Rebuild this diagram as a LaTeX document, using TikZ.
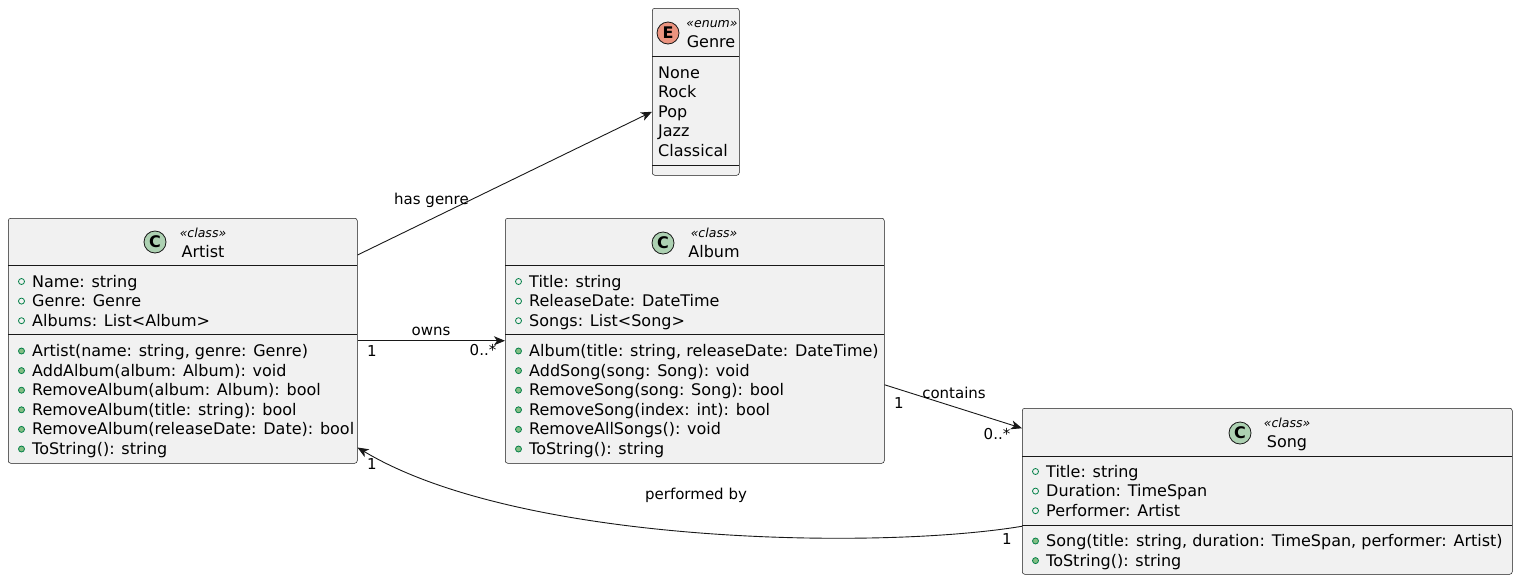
\documentclass[tikz,border=0pt]{standalone}
\usepackage{fontspec}
\setmainfont{DejaVu Sans}
\usetikzlibrary{arrows.meta,calc}
\definecolor{boxfill}{HTML}{F1F1F1}
\definecolor{boxline}{HTML}{181818}
\definecolor{classcirc}{HTML}{ADD1B2}
\definecolor{enumcirc}{HTML}{EB937F}
\definecolor{visline}{HTML}{038048}
\definecolor{visfill}{HTML}{84BE84}
\tikzset{
  umlbox/.style={draw=boxline, fill=boxfill, line width=0.5pt, rounded corners=2.5pt, inner sep=0pt, anchor=north west},
  mtext/.style={anchor=base west, inner sep=0pt, font=\fontsize{16}{18}\selectfont},
  stereo/.style={anchor=base, inner sep=0pt, font=\fontsize{12.5}{14}\selectfont\itshape},
  cname/.style={anchor=base, inner sep=0pt, font=\fontsize{16}{18}\selectfont},
  badge/.style={circle, draw=boxline, line width=0.8pt, minimum size=22pt, inner sep=0pt, font=\fontsize{16}{18}\selectfont\bfseries},
  sepline/.style={draw=boxline, line width=0.5pt},
  assoc/.style={draw=boxline, line width=0.9pt, -{Stealth[length=11pt,width=9pt,inset=3pt]}},
  elabel/.style={inner sep=0pt, font=\fontsize{15}{17}\selectfont},
}
% public attribute: hollow green dot, public operation: filled green dot
\newcommand\fieldrow[4]{%
  \draw[visline, line width=0.8pt] (#2+13.5,#3-5.5) circle[radius=3pt];
  \node[mtext] (#1) at (#2+24,#3) {#4};}
\newcommand\methodrow[4]{%
  \draw[visline, fill=visfill, line width=0.8pt] (#2+13.5,#3-5.5) circle[radius=3pt];
  \node[mtext] (#1) at (#2+24,#3) {#4};}
\begin{document}
\begin{tikzpicture}[x=1pt,y=-1pt]
\useasboundingbox (0,0) rectangle (1520,582);

% ---- Genre (enum) ----
\node[umlbox, minimum width=87pt, minimum height=167pt] (genre) at (652,8) {};
\node[badge, fill=enumcirc] (genreE) at (668,33) {E};
\node[stereo] (genreS) at (712,27) {«enum»};
\node[cname] (genreN) at (711,47) {Genre};
\draw[sepline] (652,56.5) -- (739,56.5);
\node[mtext] (g1) at (658,78) {None};
\node[mtext] (g2) at (658,97.6) {Rock};
\node[mtext] (g3) at (658,117.2) {Pop};
\node[mtext] (g4) at (658,136.8) {Jazz};
\node[mtext] (g5) at (658,156.4) {Classical};
\draw[sepline] (652,165.5) -- (739,165.5);

% ---- Artist ----
\node[umlbox, minimum width=349pt, minimum height=245pt] (artist) at (8,218) {};
\node[badge, fill=classcirc] (artistC) at (155,242) {C};
\node[stereo] (artistS) at (203,237) {«class»};
\node[cname] (artistN) at (203,257) {Artist};
\draw[sepline] (8,265.5) -- (357,265.5);
\fieldrow{af1}{8}{287}{Name: string}
\fieldrow{af2}{8}{306.6}{Genre: Genre}
\fieldrow{af3}{8}{326.2}{Albums: List<Album>}
\draw[sepline] (8,334.5) -- (357,334.5);
\methodrow{am1}{8}{356.5}{Artist(name: string, genre: Genre)}
\methodrow{am2}{8}{376.1}{AddAlbum(album: Album): void}
\methodrow{am3}{8}{395.7}{RemoveAlbum(album: Album): bool}
\methodrow{am4}{8}{415.3}{RemoveAlbum(title: string): bool}
\methodrow{am5}{8}{434.9}{RemoveAlbum(releaseDate: Date): bool}
\methodrow{am6}{8}{454.5}{ToString(): string}

% ---- Album ----
\node[umlbox, minimum width=379pt, minimum height=245pt] (album) at (505,218) {};
\node[badge, fill=classcirc] (albumC) at (663,243) {C};
\node[stereo] (albumS) at (714,237) {«class»};
\node[cname] (albumN) at (714,257) {Album};
\draw[sepline] (505,265.5) -- (884,265.5);
\fieldrow{lf1}{505}{287}{Title: string}
\fieldrow{lf2}{505}{306.6}{ReleaseDate: DateTime}
\fieldrow{lf3}{505}{326.2}{Songs: List<Song>}
\draw[sepline] (505,334.5) -- (884,334.5);
\methodrow{lm1}{505}{356.5}{Album(title: string, releaseDate: DateTime)}
\methodrow{lm2}{505}{376.1}{AddSong(song: Song): void}
\methodrow{lm3}{505}{395.7}{RemoveSong(song: Song): bool}
\methodrow{lm4}{505}{415.3}{RemoveSong(index: int): bool}
\methodrow{lm5}{505}{434.9}{RemoveAllSongs(): void}
\methodrow{lm6}{505}{454.5}{ToString(): string}

% ---- Song ----
\node[umlbox, minimum width=490pt, minimum height=166pt] (song) at (1022,408) {};
\node[badge, fill=classcirc] (songC) at (1240,433) {C};
\node[stereo] (songS) at (1287,427) {«class»};
\node[cname] (songN) at (1287,447.5) {Song};
\draw[sepline] (1022,456.5) -- (1512,456.5);
\fieldrow{sf1}{1022}{477}{Title: string}
\fieldrow{sf2}{1022}{496.6}{Duration: TimeSpan}
\fieldrow{sf3}{1022}{516.2}{Performer: Artist}
\draw[sepline] (1022,525.5) -- (1512,525.5);
\methodrow{sm1}{1022}{546.5}{Song(title: string, duration: TimeSpan, performer: Artist)}
\methodrow{sm2}{1022}{566.1}{ToString(): string}

% ---- associations ----
\draw[assoc] ($(artist.north east)+(0,37)$) -- ($(genre.west)+(0,20)$);
\node[elabel] (lgenre) at (431.5,200) {has genre};

\draw[assoc] (artist.east) -- (album.west);
\node[elabel] (lowns) at (431,331) {owns};
\node[elabel] (lowns1) at (372,351) {1};
\node[elabel] (lownsN) at (483,350) {0..*};

\draw[assoc] ($(album.east)+(0,44)$) -- ($(song.west)+(0,-63)$);
\node[elabel] (lcont) at (954,393) {contains};
\node[elabel] (lcont1) at (899,403) {1};
\node[elabel] (lcontN) at (997,434) {0..*};

\draw[assoc] ($(song.west)+(0,35)$) .. controls (880,550) and (520,545) .. ($(artist.south east)+(0,-16)$);
\node[elabel] (lperf) at (696,495) {performed by};
\node[elabel] (lperf1) at (372,464) {1};
\node[elabel] (lperf2) at (1007,539) {1};
\end{tikzpicture}
\end{document}
